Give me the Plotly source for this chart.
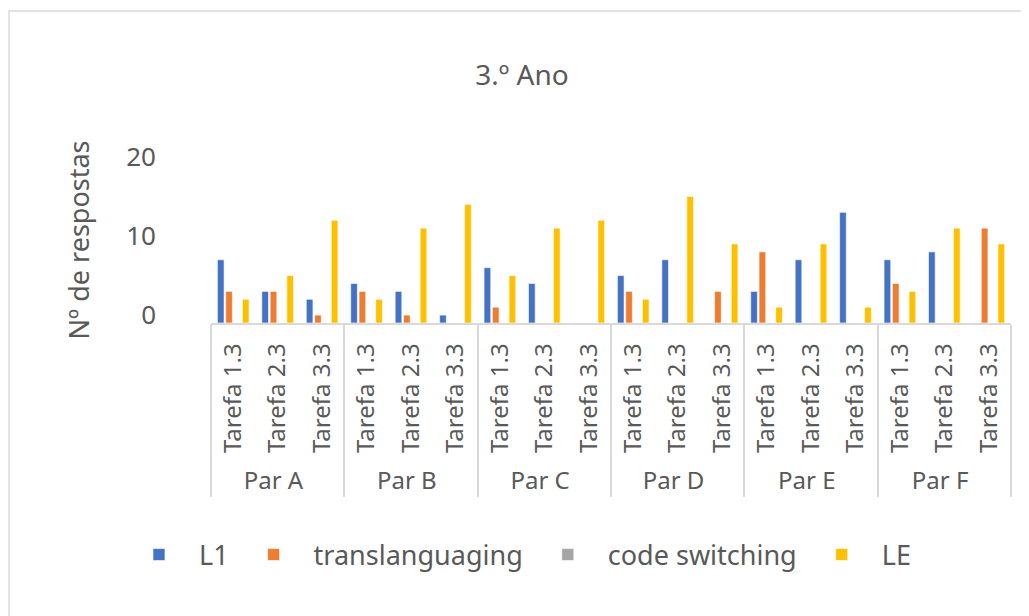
import plotly.graph_objects as go

pares = ['Par A', 'Par B', 'Par C', 'Par D', 'Par E', 'Par F']
tarefas = ['Tarefa 1.3', 'Tarefa 2.3', 'Tarefa 3.3']

# values per (par, tarefa); None = empty cell
l1 = [7, 3, 2,   4, 3, 0,   6, 4, None,   5, 7, None,   3, 7, 13,   7, 8, None]
transl = [3, 3, 0,   3, 0, None,   1, None, None,   3, None, 3,   8, None, None,   4, None, 11]
code_sw = [None] * 18
le = [2, 5, 12,   2, 11, 14,   5, 11, 12,   2, 15, 9,   1, 9, 1,   3, 11, 9]

x_outer = [p for p in pares for t in tarefas]
x_inner = [t for p in pares for t in tarefas]

series = [('L1', l1, '#4472C4'), ('translanguaging', transl, '#ED7D31'),
          ('code switching', code_sw, '#A5A5A5'), ('LE', le, '#FFC000')]

# the value axis starts at -1, bars are drawn from there
axis_min = -1

fig = go.Figure()
for name, vals, col in series:
    fig.add_trace(go.Bar(
        x=[x_outer, x_inner],
        y=[None if v is None else v - axis_min for v in vals],
        base=axis_min,
        name=name,
        marker=dict(color=col, line=dict(color='white', width=0.6)),
        customdata=vals,
        hovertemplate='%{customdata}<extra>' + name + '</extra>',
    ))

txt = '#595959'
# page body has an 8px margin, so the figure is 8px smaller than the window
fig.update_layout(
    width=1021, height=608,
    margin=dict(l=203, r=18, t=149, b=293),
    paper_bgcolor='white', plot_bgcolor='white',
    font=dict(family='Noto Sans', color=txt, size=24),
    title=dict(text='3.º Ano', x=0.5034, xanchor='center', y=0.8898, yanchor='middle',
               font=dict(size=28, color=txt)),
    barmode='group', bargap=0.25, bargroupgap=0.2,
    legend=dict(orientation='h', xref='container', yref='container',
                x=0.499, xanchor='center', y=0.1003, yanchor='middle',
                font=dict(size=27, color=txt), itemwidth=70, traceorder='normal'),
    showlegend=True,
)
fig.update_yaxes(range=[axis_min, 20], tickvals=[0, 10, 20], showgrid=False, zeroline=False,
                 showline=False, ticklabelstandoff=54, tickfont=dict(size=26, color=txt),
                 title=dict(text='Nº de respostas', font=dict(size=27, color=txt), standoff=28))
fig.update_xaxes(type='multicategory', showline=True, linecolor='#D9D9D9', linewidth=1.5,
                 showdividers=True, dividercolor='#D9D9D9', dividerwidth=1.5,
                 tickangle=-90, tickfont=dict(size=24, color=txt), showgrid=False,
                 ticklabelstandoff=9)

fig.add_shape(type='rect', xref='paper', yref='paper', x0=-0.2525, y0=-2.0, x1=1.04, y1=1.8795,
              line=dict(color='#D9D9D9', width=1.5), fillcolor='rgba(0,0,0,0)', layer='below')

fig.write_html('out.html')
